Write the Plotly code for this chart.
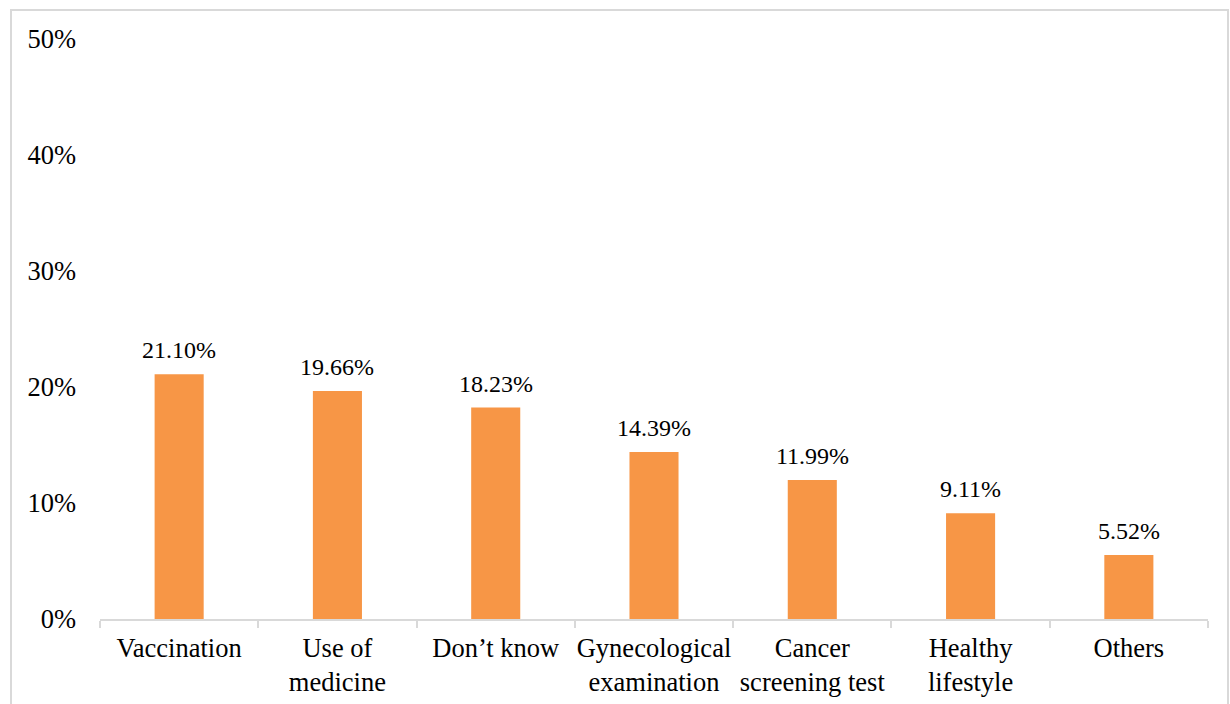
import plotly.graph_objects as go

categories = ["Vaccination", "Use of<br>medicine", "Don’t know", "Gynecological<br>examination",
              "Cancer<br>screening test", "Healthy<br>lifestyle", "Others"]
shares = [21.10, 19.66, 18.23, 14.39, 11.99, 9.11, 5.52]
y_ticks = [0, 10, 20, 30, 40, 50]

FONT = "Liberation Serif, Times New Roman, serif"

fig = go.Figure(
    go.Bar(
        x=categories,
        y=shares,
        width=0.31,
        marker=dict(color="#F79646", line=dict(width=0)),
        hoverinfo="x+y",
    )
)

# value labels above each bar
for cat, val in zip(categories, shares):
    fig.add_annotation(
        x=cat, y=val, xref="x", yref="y",
        text=f"{val:.2f}%",
        showarrow=False,
        yanchor="bottom",
        yshift=9,
        font=dict(family=FONT, size=24, color="#000000"),
    )

fig.update_layout(
    width=1230,
    height=704,
    margin=dict(l=100, r=22, t=39, b=85),
    paper_bgcolor="white",
    plot_bgcolor="white",
    showlegend=False,
    font=dict(family=FONT, size=26.5, color="#000000"),
)

fig.update_yaxes(
    range=[0, 50],
    tickvals=y_ticks,
    ticktext=[f"{v}%" for v in y_ticks],
    showgrid=False,
    zeroline=False,
    showline=False,
    ticks="",
    ticklabelstandoff=23,
    automargin=False,
    tickfont=dict(family=FONT, size=26.5, color="#000000"),
)

fig.update_xaxes(
    showgrid=False,
    showline=True,
    linecolor="#d9d9d9",
    linewidth=2,
    ticks="outside",
    tickson="boundaries",
    ticklen=7,
    tickwidth=2,
    tickcolor="#d9d9d9",
    tickangle=0,
    ticklabelstandoff=4,
    automargin=False,
    tickfont=dict(family=FONT, size=26.5, color="#000000"),
)

# chart-area frame (bottom edge lies below the visible page)
fig.add_shape(
    type="rect", xref="paper", yref="paper",
    x0=(11 - 100) / 1108, x1=(1228 - 100) / 1108,
    y0=-0.2, y1=(619 - 10) / 580,
    line=dict(color="#d9d9d9", width=2),
    fillcolor="rgba(0,0,0,0)",
    layer="below",
)

fig.write_html("out.html")
